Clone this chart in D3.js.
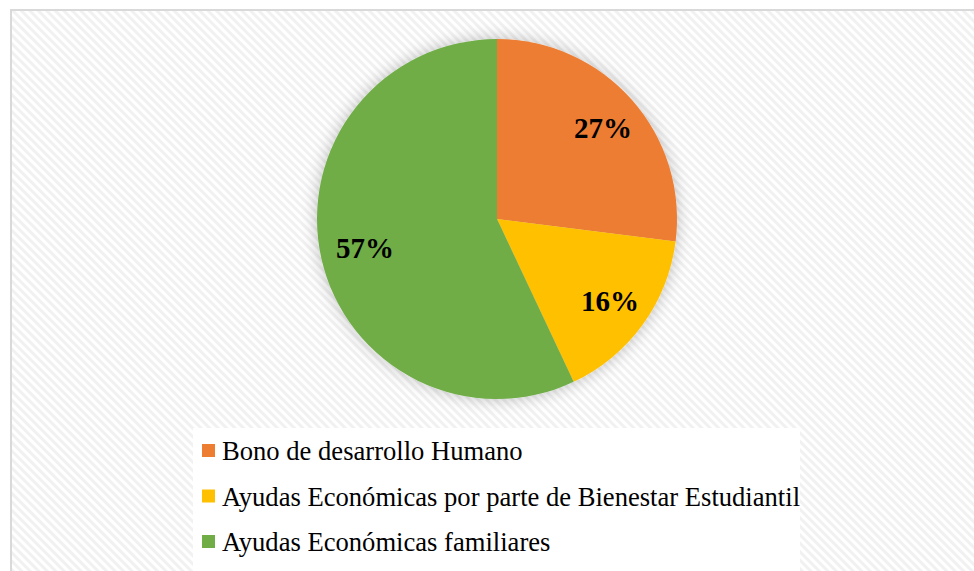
<!DOCTYPE html>
<html><head><meta charset="utf-8">
<script src="https://cdn.jsdelivr.net/npm/d3@7"></script>
<style>html,body{margin:0;padding:0;background:#fff;overflow:hidden}</style>
</head><body>
<svg id="c" width="974" height="571"></svg>
<script>
const categories = ["Bono de desarrollo Humano", "Ayudas Económicas por parte de Bienestar Estudiantil", "Ayudas Económicas familiares"];
const values = [27, 16, 57];
const labels = ["27%", "16%", "57%"];
const colors = ["#ED7D31", "#FFC000", "#70AD47"];

const svg = d3.select("#c");
const defs = svg.append("defs");
const pat = defs.append("pattern").attr("id","hatch").attr("width",6).attr("height",6)
  .attr("patternUnits","userSpaceOnUse").attr("patternTransform","rotate(-45)");
pat.append("rect").attr("width",6).attr("height",6).attr("fill","#ffffff");
pat.append("rect").attr("x",0).attr("width",3).attr("height",6).attr("fill","#f1f1f1");

const f = defs.append("filter").attr("id","glow").attr("x","-30%").attr("y","-30%").attr("width","160%").attr("height","160%");
f.append("feGaussianBlur").attr("in","SourceAlpha").attr("stdDeviation",8).attr("result","b");
f.append("feFlood").attr("flood-color","#000").attr("flood-opacity",0.25);
f.append("feComposite").attr("in2","b").attr("operator","in").attr("result","s");
const m = f.append("feMerge");
m.append("feMergeNode").attr("in","s");
m.append("feMergeNode").attr("in","SourceGraphic");

// chart area background and border
svg.append("rect").attr("x",11).attr("y",10).attr("width",975).attr("height",580)
  .attr("fill","url(#hatch)").attr("stroke","#d9d9d9").attr("stroke-width",2);

const cx = 497, cy = 219, r = 180;
const pie = d3.pie().sort(null).value(d => d);
const arcs = pie(values);
const arc = d3.arc().innerRadius(0).outerRadius(r);
const g = svg.append("g").attr("transform",`translate(${cx},${cy})`);
g.append("g").attr("filter","url(#glow)").selectAll("path").data(arcs).join("path")
  .attr("d",arc).attr("fill",(d,i)=>colors[i]);

const labelPos = [[106,-81],[113,92],[-132,39]];
g.selectAll("text.lbl").data(arcs).join("text").attr("class","lbl")
  .attr("x",(d,i)=>labelPos[i][0]).attr("y",(d,i)=>labelPos[i][1])
  .attr("text-anchor","middle")
  .attr("font-family","'Liberation Serif','Times New Roman',serif")
  .attr("font-weight","bold").attr("font-size",29).attr("fill","#000")
  .text((d,i)=>labels[i]);

// legend
svg.append("rect").attr("x",193).attr("y",428).attr("width",607).attr("height",150).attr("fill","#fff");
const lg = svg.append("g");
const rowY = d3.scalePoint().domain(categories).range([451,542]);
categories.forEach((c,i)=>{
  lg.append("rect").attr("x",202).attr("y",rowY(c)-7).attr("width",13).attr("height",13).attr("fill",colors[i]);
  lg.append("text").attr("x",222).attr("y",rowY(c)+9)
    .attr("font-family","'Liberation Serif','Times New Roman',serif")
    .attr("font-size",26.6).attr("fill","#000").text(c);
});
</script>
</body></html>
